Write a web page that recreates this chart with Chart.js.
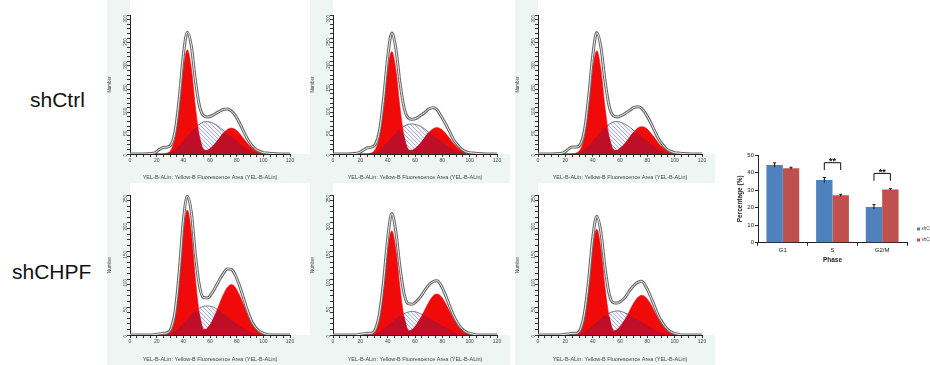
<!DOCTYPE html>
<html><head><meta charset="utf-8">
<script src="https://cdn.jsdelivr.net/npm/chart.js@4.4.1/dist/chart.umd.min.js"></script>
<style>
html,body{margin:0;padding:0;background:#fff;width:930px;height:365px;overflow:hidden;font-family:"Liberation Sans",Arial,sans-serif;}
.box{position:absolute;}
.row{position:absolute;font-size:21px;color:#111;line-height:1;font-family:"Liberation Sans",Arial,sans-serif;}
</style></head><body>
<div class="row" style="left:30px;top:89px">shCtrl</div>
<div class="row" style="left:12px;top:261px">shCHPF</div>
<div class="box" style="left:107px;top:0;width:203px;height:183px"><canvas id="h1"></canvas></div>
<div class="box" style="left:310px;top:0;width:200px;height:183px"><canvas id="h2"></canvas></div>
<div class="box" style="left:515px;top:0;width:200px;height:183px"><canvas id="h3"></canvas></div>
<div class="box" style="left:107px;top:183px;width:203px;height:182px"><canvas id="h4"></canvas></div>
<div class="box" style="left:310px;top:183px;width:200px;height:182px"><canvas id="h5"></canvas></div>
<div class="box" style="left:515px;top:183px;width:200px;height:182px"><canvas id="h6"></canvas></div>
<div class="box" style="left:712px;top:140px;width:218px;height:125px"><canvas id="bar"></canvas></div>
<script>
// ---- histogram data (fluorescence channel grid and counts) ----
const xGrid = [0,10,16,19,22,25,28,31,34,37,40,43,46,49,52,55,58,61,64,67,70,73,76,79,82,85,88,91,94,97,100,103,106,112,120];

const p1G1 = [0,0,0,0,0,0,2,10,39,103,185,225,185,103,39,10,2,0,0,0,0,0,0,0,0,0,0,0,0,0,0,0,0,0,0];
const p1S  = [0,0,0,0,0,0,1,4,10,18,28,38,48,57,64,69,70,68,64,58,51,44,37,30,23,16,10,6,3,1,0,0,0,0,0];
const p1G2 = [0,0,0,0,0,0,0,0,0,0,0,0,0,0,2,4,8,14,23,34,45,53,56,53,45,34,23,14,8,4,2,1,0,0,0];
const p1Env= [0,0,1,3,10,14,15,21,52,122,213,263,233,160,105,83,80,82,87,92,96,97,93,83,68,50,33,20,11,6,3,2,1,0,0];

const p2G1 = [0,0,0,0,0,0,2,10,38,101,182,221,182,101,38,10,2,0,0,0,0,0,0,0,0,0,0,0,0,0,0,0,0,0,0];
const p2S  = [0,0,0,0,0,0,1,4,9,17,26,35,45,53,60,64,65,63,60,54,47,41,34,28,21,15,9,6,3,1,0,0,0,0,0];
const p2G2 = [0,0,0,0,0,0,0,0,0,0,0,0,0,0,2,4,8,14,23,35,46,54,57,54,46,35,23,14,8,4,2,1,0,0,0];
const p2Env= [0,0,1,3,8,13,15,21,50,119,208,261,227,154,100,78,75,77,83,89,97,100,96,82,67,50,32,20,11,5,3,2,1,0,0];

const p3G1 = [0,0,0,0,0,0,2,10,38,102,183,223,183,102,38,10,2,0,0,0,0,0,0,0,0,0,0,0,0,0,0,0,0,0,0];
const p3S  = [0,0,0,0,0,0,1,4,10,18,28,38,48,57,64,69,70,68,64,58,51,44,37,30,23,16,10,6,3,1,0,0,0,0,0];
const p3G2 = [0,0,0,0,0,0,0,0,0,0,0,0,0,0,2,4,8,15,24,36,47,56,59,56,47,36,24,15,8,4,2,1,0,0,0];
const p3Env= [0,0,1,3,10,15,15,21,51,121,211,262,231,159,104,83,80,83,88,94,100,102,98,86,70,52,34,21,11,6,3,2,1,0,0];

const p4G1 = [0,0,0,0,0,0,2,10,38,102,183,223,183,102,38,10,2,0,0,0,0,0,0,0,0,0,0,0,0,0,0,0,0,0,0];
const p4S  = [0,0,0,0,0,0,1,3,7,13,21,28,36,42,48,51,52,51,48,43,38,33,27,22,17,12,7,4,2,1,0,0,0,0,0];
const p4G2 = [0,0,0,0,0,0,0,0,0,0,0,0,0,0,3,6,12,22,37,55,72,85,90,85,72,55,37,22,12,6,3,1,0,0,0];
const p4Env= [0,0,0,1,2,3,4,13,45,115,204,248,219,144,89,67,66,73,85,98,110,118,117,107,89,67,44,26,14,7,3,1,0,0,0];

const p5G1 = [0,0,0,0,0,0,1,8,32,85,153,186,153,85,32,8,1,0,0,0,0,0,0,0,0,0,0,0,0,0,0,0,0,0,0];
const p5S  = [0,0,0,0,0,0,1,2,6,11,17,23,29,34,38,41,42,41,38,35,31,26,22,18,14,10,6,4,2,1,0,0,0,0,0];
const p5G2 = [0,0,0,0,0,0,0,0,0,0,0,0,0,0,2,5,10,18,30,44,58,69,73,69,58,44,30,18,10,5,2,1,0,0,0];
const p5Env= [0,0,0,1,2,3,3,10,38,96,172,217,184,121,74,56,55,60,68,79,89,95,97,89,73,54,36,22,12,6,3,1,0,0,0];

const p6G1 = [0,0,0,0,0,0,2,8,33,86,155,189,155,86,33,8,2,0,0,0,0,0,0,0,0,0,0,0,0,0,0,0,0,0,0];
const p6S  = [0,0,0,0,0,0,1,2,6,11,17,23,29,35,39,42,43,42,39,36,31,27,23,18,14,10,6,4,2,1,0,0,0,0,0];
const p6G2 = [0,0,0,0,0,0,0,0,0,0,0,0,0,0,2,5,10,18,29,43,57,67,71,67,57,43,29,18,10,5,2,1,0,0,0];
const p6Env= [0,0,0,1,2,3,3,10,39,97,172,212,184,121,74,58,57,61,68,79,88,94,96,86,71,53,35,22,12,6,3,1,0,0,0];

// ---- bar chart data ----
const phases = ['G1','S','G2/M'];
const seriesNames = ['shCtrl','shCHPF'];
const ctrlPct = [44.3, 35.7, 20.4];
const chpfPct = [42.4, 27.0, 30.4];
const ctrlErr = [1.2, 1.5, 1.3];
const chpfErr = [0.6, 0.6, 0.4];
const sigPhases = [1, 2];

const RED = 'rgb(240,10,10)';
const DARK = 'rgb(190,14,40)';
const FONT = '"Liberation Sans", Arial, sans-serif';
Chart.defaults.font.family = FONT;

function makeHatch(){
  const c = document.createElement('canvas'); c.width = 4; c.height = 4;
  const x = c.getContext('2d');
  x.fillStyle = '#f6f6fc'; x.fillRect(0,0,4,4);
  x.strokeStyle = '#7783bd'; x.lineWidth = 0.6;
  x.beginPath();
  x.moveTo(0,0); x.lineTo(4,4);
  x.moveTo(-2,2); x.lineTo(2,6);
  x.moveTo(2,-2); x.lineTo(6,2);
  x.stroke();
  return x.createPattern(c,'repeat');
}
const hatch = makeHatch();

const bgPlugin = {id:'bg', beforeDraw(c){
  const {ctx, chartArea:a, width, height} = c;
  ctx.save();
  ctx.fillStyle = '#eff5f3'; ctx.fillRect(0,0,width,height);
  ctx.fillStyle = '#ffffff'; ctx.fillRect(a.left,0,width-a.left,a.bottom);
  ctx.restore();
}};

function hist(id, g1, s, g2, env, yMax, padR, padT, xh){
  const pts = a => xGrid.map((x,i)=>({x:x, y:a[i]}));
  const ov = s.map((v,i)=>Math.min(v, Math.max(g1[i], g2[i])));
  new Chart(document.getElementById(id), {
    type:'line',
    data:{datasets:[
      {label:'S', data:pts(s), order:6, fill:'origin', backgroundColor:hatch, borderColor:'#3a4272', borderWidth:0.7},
      {label:'G1', data:pts(g1), order:5, fill:'origin', backgroundColor:RED, borderColor:RED, borderWidth:0.6},
      {label:'G2/M', data:pts(g2), order:5, fill:'origin', backgroundColor:RED, borderColor:RED, borderWidth:0.6},
      {label:'overlap', data:pts(ov), order:4, fill:'origin', backgroundColor:DARK, borderColor:'rgba(0,0,0,0)', borderWidth:0},
      {label:'fit', data:pts(env), order:2, fill:false, borderColor:'#666666', borderWidth:3.0},
      {label:'fit2', data:pts(env), order:1, fill:false, borderColor:'#f0f0f0', borderWidth:1.0}
    ]},
    options:{
      responsive:true, maintainAspectRatio:false, animation:false, devicePixelRatio:1,
      elements:{point:{radius:0}, line:{cubicInterpolationMode:'monotone'}},
      layout:{padding:{left:0,right:padR,top:padT,bottom:0}},
      plugins:{legend:{display:false}, tooltip:{enabled:false}},
      scales:{
        x:{type:'linear', min:0, max:120, afterFit:sc=>{sc.height=xh;},
           ticks:{stepSize:5, autoSkip:false, maxRotation:0, font:{size:5}, color:'#444', padding:1,
                  callback:v=> v%20===0 ? v : ''},
           grid:{drawOnChartArea:false, tickLength:3, color:'#333'}, border:{color:'#222', width:1},
           title:{display:true, text:'YEL-B-ALin: Yellow-B Fluorescence Area (YEL-B-ALin)', font:{size:5.5}, color:'#444', padding:{top:1,bottom:2}}},
        y:{min:0, max:yMax, afterFit:sc=>{sc.width=23;},
           ticks:{stepSize:10, autoSkip:false, font:{size:4.5}, color:'#444', padding:1, minRotation:90, maxRotation:90,
                  callback:v=> v%50===0 ? v : ''},
           grid:{drawOnChartArea:false, tickLength:3, color:'#333'}, border:{color:'#222', width:1},
           title:{display:true, text:'Number', font:{size:4.5}, color:'#444', padding:0}}
      }
    },
    plugins:[bgPlugin]
  });
}

hist('h1', p1G1, p1S, p1G2, p1Env, 300, 20, 15, 29);
hist('h2', p2G1, p2S, p2G2, p2Env, 300, 13, 15, 29);
hist('h3', p3G1, p3S, p3G2, p3Env, 300, 13, 15, 29);
hist('h4', p4G1, p4S, p4G2, p4Env, 250, 20, 12, 30);
hist('h5', p5G1, p5S, p5G2, p5Env, 250, 13, 12, 30);
hist('h6', p6G1, p6S, p6G2, p6Env, 250, 13, 12, 30);

const barExtras = {id:'barExtras', afterDatasetsDraw(c){
  const {ctx} = c; const y = c.scales.y;
  const m0 = c.getDatasetMeta(0), m1 = c.getDatasetMeta(1);
  ctx.save();
  ctx.strokeStyle = '#111'; ctx.lineWidth = 1;
  const errs = [[m0, ctrlPct, ctrlErr],[m1, chpfPct, chpfErr]];
  errs.forEach(([m, vals, e])=>{
    m.data.forEach((b,i)=>{
      const x = b.x, yt = y.getPixelForValue(vals[i]+e[i]), yb = y.getPixelForValue(vals[i]-e[i]);
      ctx.beginPath(); ctx.moveTo(x,yt); ctx.lineTo(x,yb);
      ctx.moveTo(x-1.5,yt); ctx.lineTo(x+1.5,yt);
      ctx.stroke();
    });
  });
  // significance brackets
  const levels = {1:[45.6, 41.4], 2:[39.5, 35.3]};
  sigPhases.forEach(i=>{
    const x1 = m0.data[i].x, x2 = m1.data[i].x;
    const yt = y.getPixelForValue(levels[i][0]), yb = y.getPixelForValue(levels[i][1]);
    ctx.beginPath(); ctx.moveTo(x1,yb); ctx.lineTo(x1,yt); ctx.lineTo(x2,yt); ctx.lineTo(x2,yb); ctx.stroke();
    ctx.fillStyle = '#111'; ctx.font = 'bold 9px '+FONT; ctx.textAlign = 'center'; ctx.textBaseline = 'alphabetic';
    ctx.fillText('**', (x1+x2)/2, yt+1.5);
  });
  // legend
  const cols = ['#4f81bd','#c0504d'];
  ctx.font = '4.5px '+FONT; ctx.textAlign='left'; ctx.textBaseline='middle';
  seriesNames.forEach((n,k)=>{
    const ly = 89 + k*11;
    ctx.fillStyle = cols[k]; ctx.fillRect(205, ly-1.5, 3, 3);
    ctx.fillStyle = '#444'; ctx.fillText(n, 209.5, ly);
  });
  ctx.restore();
}};

new Chart(document.getElementById('bar'), {
  type:'bar',
  data:{labels:phases, datasets:[
    {label:seriesNames[0], data:ctrlPct, backgroundColor:'#4f81bd', categoryPercentage:0.66, barPercentage:1.0},
    {label:seriesNames[1], data:chpfPct, backgroundColor:'#c0504d', categoryPercentage:0.66, barPercentage:1.0}
  ]},
  options:{
    responsive:true, maintainAspectRatio:false, animation:false, devicePixelRatio:1,
    layout:{padding:{left:24,right:23,top:15,bottom:0}},
    plugins:{legend:{display:false}, tooltip:{enabled:false}},
    scales:{
      x:{afterFit:sc=>{sc.height=22.3;}, grid:{offset:true, drawOnChartArea:false, tickLength:3, color:'#222'},
         border:{color:'#222', width:1}, ticks:{font:{size:6}, color:'#222', padding:1},
         title:{display:true, text:'Phase', font:{size:6.5, weight:'bold'}, color:'#222', padding:{top:0,bottom:1}}},
      y:{min:0, max:50, afterFit:sc=>{sc.width=22;},
         ticks:{stepSize:5, font:{size:6}, color:'#222', padding:1},
         grid:{drawOnChartArea:false, tickLength:3, color:'#222'}, border:{color:'#222', width:1},
         title:{display:true, text:'Percentage (%)', font:{size:6.5, weight:'bold'}, color:'#222', padding:0}}
    }
  },
  plugins:[barExtras]
});
</script>
</body></html>
